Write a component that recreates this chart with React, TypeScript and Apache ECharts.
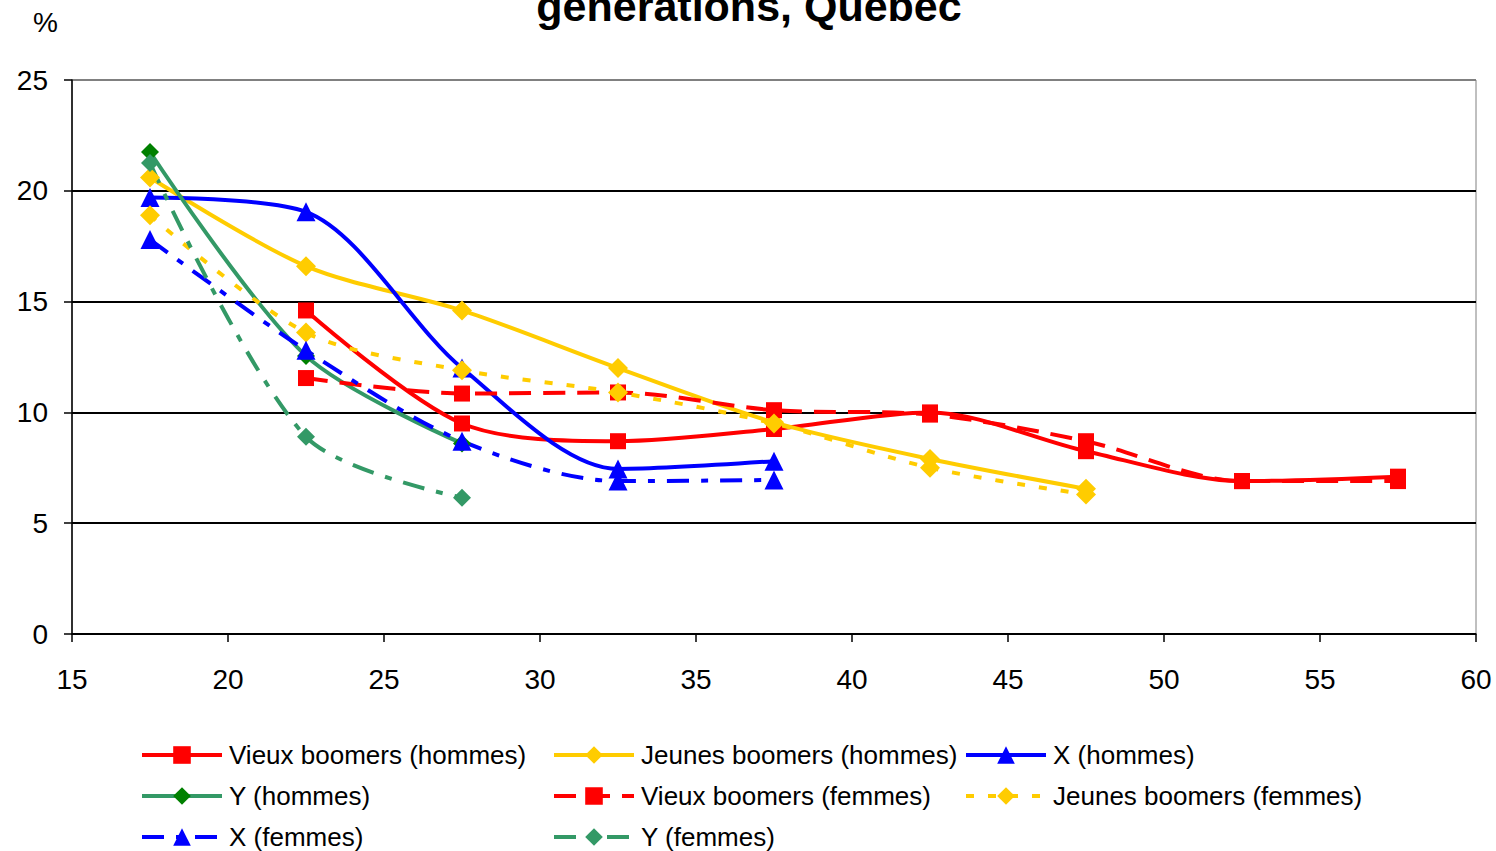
import React, { useEffect, useRef } from "react";
import * as echarts from "echarts";

const vieuxAges = [22.5, 27.5, 32.5, 37.5, 42.5, 47.5, 52.5, 57.5];
const vieuxHommes = [14.6, 9.5, 8.7, 9.25, 10.0, 8.25, 6.9, 7.1];
const vieuxFemmes = [11.55, 10.85, 10.9, 10.1, 9.9, 8.7, 6.9, 6.9];

const jeunesAges = [17.5, 22.5, 27.5, 32.5, 37.5, 42.5, 47.5];
const jeunesHommes = [20.6, 16.6, 14.6, 12.0, 9.55, 7.9, 6.55];
const jeunesFemmes = [18.9, 13.6, 11.9, 10.9, 9.5, 7.5, 6.3];

const xAges = [17.5, 22.5, 27.5, 32.5, 37.5];
const xHommes = [19.7, 19.05, 12.0, 7.45, 7.8];
const xFemmes = [17.8, 12.8, 8.7, 6.9, 6.95];

const yAges = [17.5, 22.5, 27.5];
const yHommes = [21.75, 12.55, 8.6];
const yFemmes = [21.25, 8.9, 6.15];

const xTicks = [15, 20, 25, 30, 35, 40, 45, 50, 55, 60];

const FONT = "'Liberation Sans', Arial, sans-serif";

const pair = (xs: number[], ys: number[]) => ys.map((v, i) => [xs[i], v]);

type Def = {
  name: string;
  xs: number[];
  ys: number[];
  color: string;
  markerColor?: string;
  symbol: string;
  size: number;
  dash: any;
};

const defs: Def[] = [
  { name: "Vieux boomers (hommes)", xs: vieuxAges, ys: vieuxHommes, color: "#FF0000", symbol: "rect", size: 16, dash: "solid" },
  { name: "Jeunes boomers (hommes)", xs: jeunesAges, ys: jeunesHommes, color: "#FFCC00", symbol: "diamond", size: 20, dash: "solid" },
  { name: "X (hommes)", xs: xAges, ys: xHommes, color: "#0000FF", symbol: "triangle", size: 19, dash: "solid" },
  { name: "Y (hommes)", xs: yAges, ys: yHommes, color: "#339966", markerColor: "#008000", symbol: "diamond", size: 18, dash: "solid" },
  { name: "Vieux boomers (femmes)", xs: vieuxAges, ys: vieuxFemmes, color: "#FF0000", symbol: "rect", size: 16, dash: [22, 12] },
  { name: "Jeunes boomers (femmes)", xs: jeunesAges, ys: jeunesFemmes, color: "#FFCC00", symbol: "diamond", size: 20, dash: [8, 14] },
  { name: "X (femmes)", xs: xAges, ys: xFemmes, color: "#0000FF", symbol: "triangle", size: 19, dash: [22, 12, 7, 12] },
  { name: "Y (femmes)", xs: yAges, ys: yFemmes, color: "#339966", symbol: "diamond", size: 18, dash: [22, 12, 7, 12] },
];

const legendPos = [
  [140, 757], [552, 757], [964, 757],
  [140, 798], [552, 798], [964, 798],
  [140, 839], [552, 839],
];

export default function App() {
  const ref = useRef<HTMLDivElement>(null);
  useEffect(() => {
    if (!ref.current) return;
    const chart = echarts.init(ref.current, undefined, { renderer: "svg" });
    const series = defs.map((d) => ({
      name: d.name,
      type: "line",
      data: pair(d.xs, d.ys),
      smooth: 0.3,
      symbol: d.symbol,
      symbolSize: d.size,
      showAllSymbol: true,
      lineStyle: { color: d.color, width: 4, type: d.dash },
      itemStyle: { color: d.markerColor || d.color, borderWidth: 0 },
      emphasis: { disabled: true },
    }));
    const legends = defs.map((d, i) => ({
      show: true,
      data: [d.name],
      left: legendPos[i][0],
      top: legendPos[i][1] - 15,
      padding: 0,
      itemWidth: 80,
      itemHeight: 22,
      itemGap: 0,
      selectedMode: false,
      lineStyle: { width: 4 },
      textStyle: { fontSize: 26, fontFamily: FONT, color: "#000", padding: [0, 0, 0, 2] },
    }));
    chart.setOption({
      animation: false,
      backgroundColor: "#fff",
      grid: { left: 72, right: 20, top: 80, bottom: 217, show: true, borderColor: "#808080", borderWidth: 1, backgroundColor: "transparent" },
      xAxis: {
        type: "value",
        min: 15,
        max: 60,
        interval: 5,
        axisLine: { lineStyle: { color: "#000", width: 1.5 } },
        axisTick: { show: true, length: 8, lineStyle: { color: "#000", width: 1.5 } },
        axisLabel: { fontSize: 28, fontFamily: FONT, color: "#000", margin: 31, formatter: (v: number) => (xTicks.includes(v) ? String(v) : "") },
        splitLine: { show: false },
      },
      yAxis: {
        type: "value",
        min: 0,
        max: 25,
        interval: 5,
        axisLine: { show: true, lineStyle: { color: "#000", width: 1.5 } },
        axisTick: { show: true, length: 8, lineStyle: { color: "#000", width: 1.5 } },
        axisLabel: { fontSize: 28, fontFamily: FONT, color: "#000", margin: 24 },
        splitLine: { show: true, lineStyle: { color: ["#000", "#000", "#000", "#000", "#000", "#808080"], width: 2 } },
      },
      legend: legends,
      series,
      graphic: [
        { type: "text", left: 33, top: 8, style: { text: "%", fontSize: 28, fontFamily: FONT, fill: "#000" } },
        {
          type: "text",
          x: 749,
          y: 27,
          style: { text: "générations, Québec", fontSize: 43, fontWeight: "bold", fontFamily: FONT, fill: "#000", textAlign: "center", textVerticalAlign: "bottom" },
        },
      ],
    });
    return () => chart.dispose();
  }, []);
  return <div ref={ref} style={{ width: 1496, height: 851, position: "absolute", left: 0, top: 0 }} />;
}
